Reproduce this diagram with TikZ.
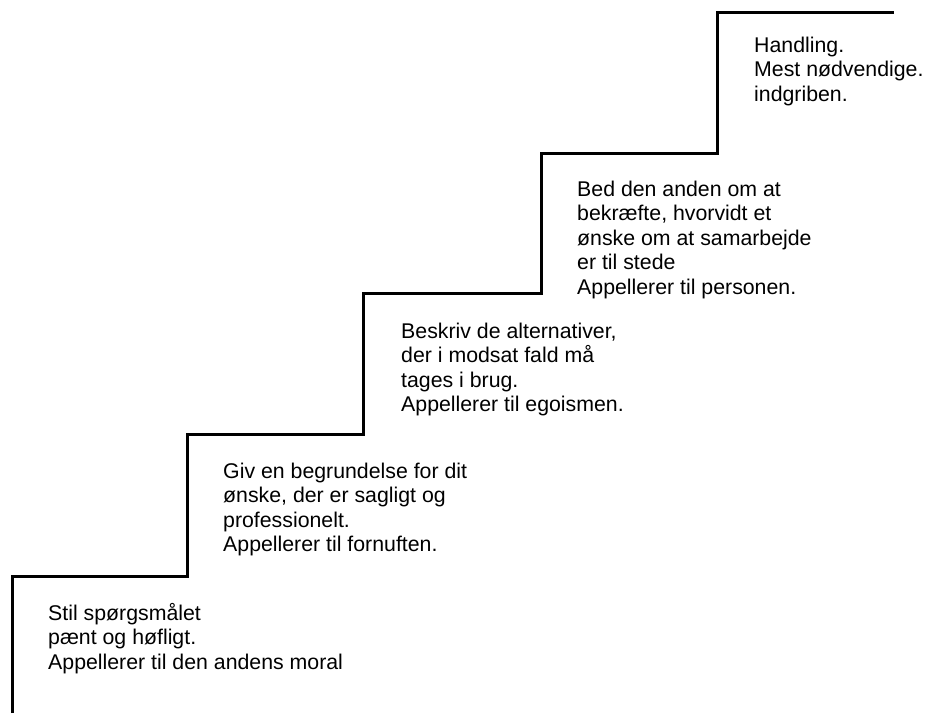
\documentclass[tikz,border=0pt]{standalone}
\usepackage{fontspec}
\setmainfont{Liberation Sans}
\begin{document}
\begin{tikzpicture}[x=1pt,y=-1pt,
  stair/.style={line width=3pt,line join=miter,line cap=butt},
  steptext/.style={anchor=base west,align=left,inner sep=0pt,font=\fontsize{21.3}{24.5}\selectfont}]
\useasboundingbox (0,0) rectangle (925,713);
\coordinate (s0) at (12,713);
\coordinate (s1) at (12,576);
\coordinate (s2) at (187,576);
\coordinate (s3) at (187,434);
\coordinate (s4) at (363,434);
\coordinate (s5) at (363,293);
\coordinate (s6) at (541,293);
\coordinate (s7) at (541,153);
\coordinate (s8) at (717,153);
\coordinate (s9) at (717,12);
\coordinate (s10) at (894,12);
\draw[stair] (s0) -- (s1) -- (s2) -- (s3) -- (s4) -- (s5) -- (s6) -- (s7) -- (s8) -- (s9) -- (s10);
\node[steptext] (t1) at (48,669) {Stil spørgsmålet\\pænt og høfligt.\\Appellerer til den andens moral};
\node[steptext] (t2) at (223,551.5) {Giv en begrundelse for dit\\ønske, der er sagligt og\\professionelt.\\Appellerer til fornuften.};
\node[steptext] (t3) at (401,411.5) {Beskriv de alternativer,\\der i modsat fald må\\tages i brug.\\Appellerer til egoismen.};
\node[steptext] (t4) at (577,294) {Bed den anden om at\\bekræfte, hvorvidt et\\ønske om at samarbejde\\er til stede\\Appellerer til personen.};
\node[steptext] (t5) at (754,101) {Handling.\\Mest nødvendige.\\indgriben.};
\end{tikzpicture}
\end{document}
